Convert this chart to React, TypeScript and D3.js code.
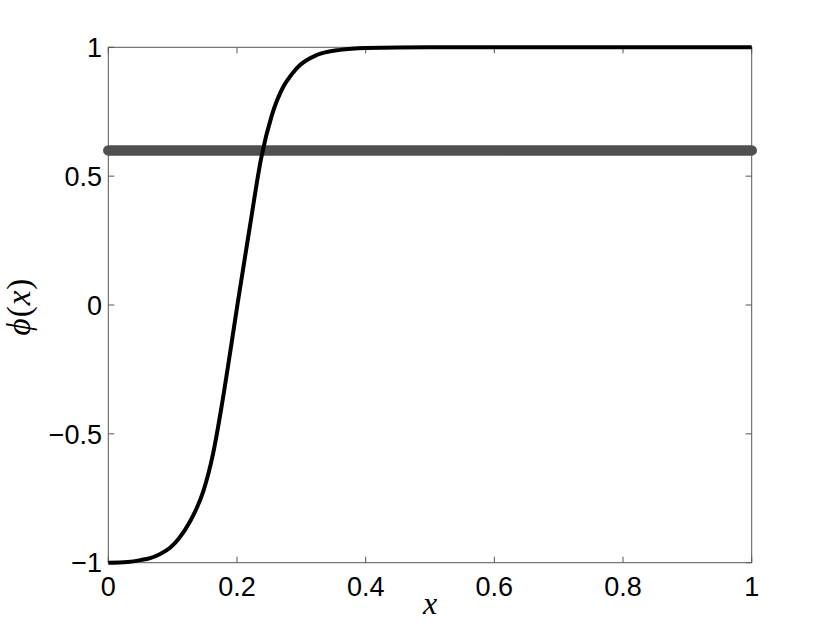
import React from "react";
import * as d3 from "d3";

const xValues = [0, 0.03, 0.05, 0.065, 0.08, 0.096, 0.11, 0.127, 0.138, 0.148, 0.163, 0.176, 0.189, 0.201, 0.22, 0.238, 0.254, 0.272, 0.285, 0.298, 0.324, 0.36, 0.4, 0.5, 1.0];
const phiValues = [-1, -0.997, -0.99, -0.982, -0.967, -0.942, -0.905, -0.84, -0.785, -0.72, -0.575, -0.395, -0.19, 0.006, 0.304, 0.575, 0.735, 0.847, 0.895, 0.931, 0.97, 0.99, 0.997, 1, 1];

const thresholdX = [0, 1];
const thresholdY = [0.6, 0.6];

const xTickValues = [0, 0.2, 0.4, 0.6, 0.8, 1];
const xTickLabels = ["0", "0.2", "0.4", "0.6", "0.8", "1"];
const yTickValues = [-1, -0.5, 0, 0.5, 1];
const yTickLabels = ["\u22121", "\u22120.5", "0", "0.5", "1"];

const W = 830;
const H = 634;
const L = 108.3, R = 751.7, T = 47.3, B = 562.7;

export default function App() {
  const x = d3.scaleLinear().domain([0, 1]).range([L, R]);
  const y = d3.scaleLinear().domain([-1, 1]).range([B, T]);

  const curve = d3
    .line<number>()
    .x((_, i) => x(xValues[i]))
    .y((d) => y(d))
    .curve(d3.curveMonotoneX)(phiValues) as string;

  const thresh = d3
    .line<number>()
    .x((_, i) => x(thresholdX[i]))
    .y((d) => y(d))(thresholdY) as string;

  const axisColor = "#555";
  const tickLen = 6;
  const font = "'Liberation Sans', Arial, Helvetica, sans-serif";
  const mathFont = "'Liberation Serif', 'DejaVu Serif', serif";

  return (
    <svg width={W} height={H} style={{ position: "absolute", left: 0, top: 0, background: "#fff" }}>
      <rect x={0} y={0} width={W} height={H} fill="#fff" />
      {xTickValues.map((v, i) => (
        <g key={"xt" + i}>
          <line x1={x(v)} x2={x(v)} y1={B} y2={B - tickLen} stroke={axisColor} strokeWidth={1} />
          <line x1={x(v)} x2={x(v)} y1={T} y2={T + tickLen} stroke={axisColor} strokeWidth={1} />
          <text x={x(v)} y={596} textAnchor="middle" fontFamily={font} fontSize={27} fill="#000">
            {xTickLabels[i]}
          </text>
        </g>
      ))}
      {yTickValues.map((v, i) => (
        <g key={"yt" + i}>
          <line x1={L} x2={L + tickLen} y1={y(v)} y2={y(v)} stroke={axisColor} strokeWidth={1} />
          <line x1={R} x2={R - tickLen} y1={y(v)} y2={y(v)} stroke={axisColor} strokeWidth={1} />
          <text x={102} y={y(v)} dy="0.36em" textAnchor="end" fontFamily={font} fontSize={27} fill="#000">
            {yTickLabels[i]}
          </text>
        </g>
      ))}
      <rect x={L} y={T} width={R - L} height={B - T} fill="none" stroke={axisColor} strokeWidth={1} />
      <path d={thresh} fill="none" stroke="#505050" strokeWidth={10.5} strokeLinecap="round" />
      <path d={curve} fill="none" stroke="#000" strokeWidth={4} strokeLinejoin="round" />
      <text x={(L + R) / 2} y={614} textAnchor="middle" fontFamily={mathFont} fontStyle="italic" fontSize={32} fill="#000">
        x
      </text>
      <text
        transform={`translate(30, ${(T + B) / 2 + 2}) rotate(-90)`}
        textAnchor="middle"
        fontFamily={mathFont}
        fontSize={33}
        fill="#000"
      >
        <tspan fontStyle="italic">{"\u03D5"}</tspan>
        <tspan dx="1">(</tspan>
        <tspan fontStyle="italic" dx="1">x</tspan>
        <tspan dx="1">)</tspan>
      </text>
    </svg>
  );
}
